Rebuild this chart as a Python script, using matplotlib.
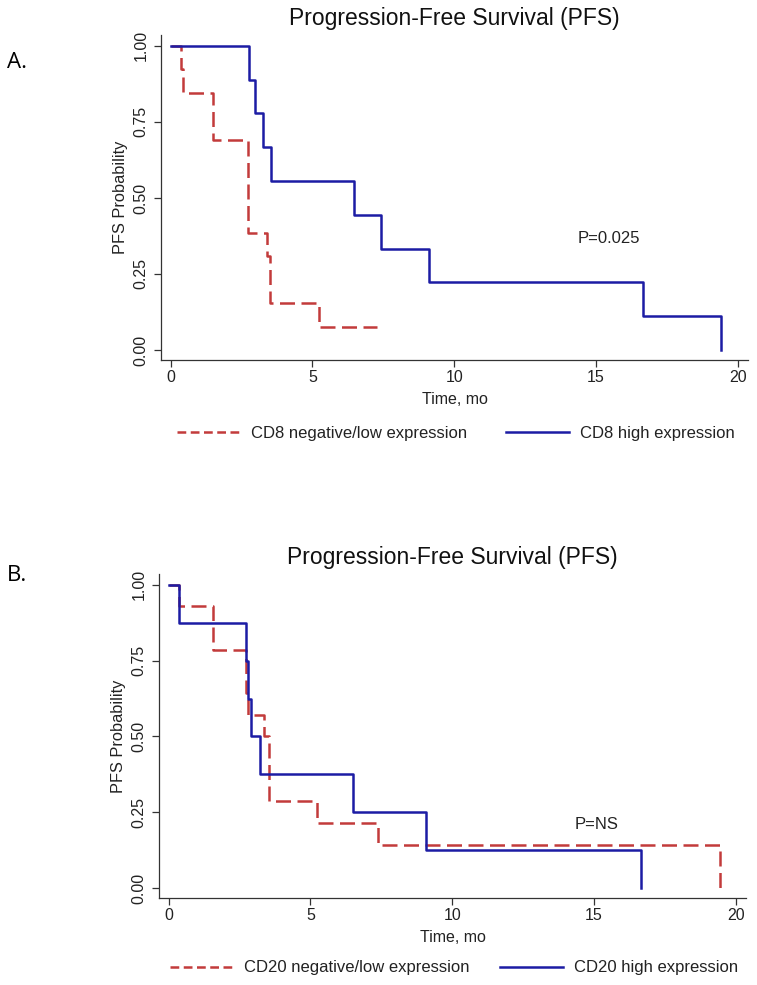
import matplotlib
matplotlib.use("Agg")
import matplotlib.pyplot as plt
from matplotlib.lines import Line2D

plt.rcParams['font.family'] = ['Liberation Sans', 'DejaVu Sans']

# Panel A: CD8
cd8_low_t = [0, 0.38, 0.45, 1.51, 2.72, 3.39, 3.50, 5.24, 7.28]
cd8_low_s = [1.0, 0.923, 0.846, 0.692, 0.385, 0.308, 0.154, 0.077, 0.077]
cd8_high_t = [0, 2.77, 2.96, 3.25, 3.54, 6.46, 7.40, 9.10, 16.64, 19.41]
cd8_high_s = [1.0, 0.889, 0.778, 0.667, 0.556, 0.444, 0.333, 0.222, 0.111, 0.0]

# Panel B: CD20
cd20_low_t = [0, 0.37, 1.55, 2.73, 2.80, 3.37, 3.54, 5.24, 7.38, 19.44]
cd20_low_s = [1.0, 0.929, 0.786, 0.643, 0.571, 0.5, 0.286, 0.214, 0.143, 0.0]
cd20_high_t = [0, 0.37, 2.73, 2.80, 2.90, 3.22, 6.49, 9.08, 16.65]
cd20_high_s = [1.0, 0.875, 0.75, 0.625, 0.5, 0.375, 0.25, 0.125, 0.0]

xticks = [0, 5, 10, 15, 20]
yticks = [0, 0.25, 0.5, 0.75, 1.0]
ytick_labels = ['0.00', '0.25', '0.50', '0.75', '1.00']

red = '#c23b3b'
blue = '#1c1ca4'

fig = plt.figure(figsize=(7.57, 9.85), dpi=100)

panels = [
    dict(rect=[0.2127, 0.6345, 0.7755, 0.330], letter='A.', letter_y=0.937,
         low=(cd8_low_t, cd8_low_s), high=(cd8_high_t, cd8_high_s),
         names=('CD8 negative/low expression', 'CD8 high expression'),
         ptxt='P=0.025', pxy=(15.45, 0.368), leg=(0.6024, 0.5604), colsp=2.3),
    dict(rect=[0.2100, 0.0883, 0.7755, 0.329], letter='B.', letter_y=0.416,
         low=(cd20_low_t, cd20_low_s), high=(cd20_high_t, cd20_high_s),
         names=('CD20 negative/low expression', 'CD20 high expression'),
         ptxt='P=NS', pxy=(15.1, 0.21), leg=(0.5997, 0.0173), colsp=1.8),
]

for p in panels:
    ax = fig.add_axes(p['rect'])
    ax.step(p['low'][0], p['low'][1], where='post', color=red, lw=1.8,
            dashes=(6, 2.6))
    ax.step(p['high'][0], p['high'][1], where='post', color=blue, lw=1.8)

    ax.set_xlim(-0.34, 20.36)
    ax.set_ylim(-0.033, 1.036)
    ax.set_xticks(xticks)
    ax.set_yticks(yticks)
    ax.set_yticklabels(ytick_labels, rotation=90, va='center')
    ax.tick_params(length=5, width=0.9, color='#333333', labelsize=11.5,
                   labelcolor='#222222')
    ax.tick_params(axis='x', pad=2)
    ax.tick_params(axis='y', pad=4)
    for s in ['top', 'right']:
        ax.spines[s].set_visible(False)
    for s in ['left', 'bottom']:
        ax.spines[s].set_color('#333333')
        ax.spines[s].set_linewidth(0.9)

    ax.set_title('Progression-Free Survival (PFS)', fontsize=16.5, pad=7,
                 color='#111111')
    ax.set_xlabel('Time, mo', fontsize=11.5, color='#222222')
    ax.xaxis.set_label_coords(0.5, -0.098)
    ax.set_ylabel('PFS Probability', fontsize=11.8, color='#222222')
    ax.yaxis.set_label_coords(-0.057, 0.5)

    ax.text(p['pxy'][0], p['pxy'][1], p['ptxt'], fontsize=12, ha='center',
            va='center', color='#222222')

    # legend keys with the shorter dash the original legend uses
    h1 = Line2D([], [], color=red, lw=1.8, dashes=(3.5, 1.8))
    h2 = Line2D([], [], color=blue, lw=1.8)
    fig.legend(handles=[h1, h2], labels=list(p['names']), loc='center',
               bbox_to_anchor=p['leg'], ncol=2, frameon=False, fontsize=12,
               handlelength=3.8, handletextpad=0.65, columnspacing=p['colsp'],
               labelcolor='#222222')

    fig.text(0.009, p['letter_y'], p['letter'], fontsize=16, family='Open Sans',
             va='center', ha='left')

fig.savefig('out.png', dpi=100)
